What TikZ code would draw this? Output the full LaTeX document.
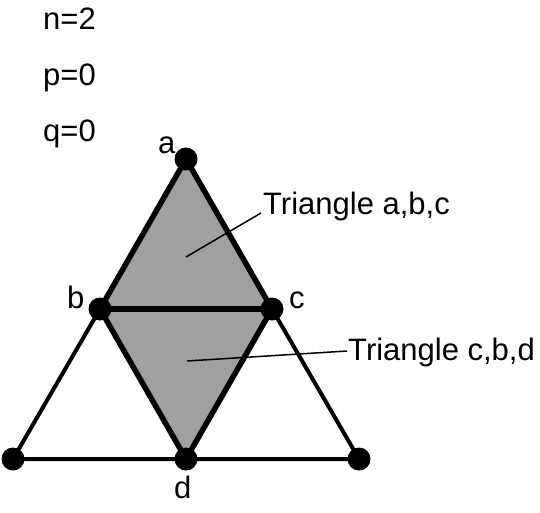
\documentclass[tikz,border=0pt]{standalone}
\usepackage{fontspec}
\setmainfont{Liberation Sans}
\usepackage{xcolor}
\usepackage{tikz}
\definecolor{facegray}{RGB}{160,160,160}

\begin{document}
\begin{tikzpicture}[x=1pt, y=-1pt]
    \tikzstyle{vertex} = [circle, fill=black, inner sep=0pt, minimum size=23pt]
    \tikzstyle{label} = [inner sep=0pt, anchor=base west, font=\fontsize{31}{31}\selectfont]
    \tikzstyle{edge} = [line width=4pt, line join=round]
    \tikzstyle{faceedge} = [line width=5.5pt, line join=round]
    \tikzstyle{leader} = [line width=1.5pt]

    \useasboundingbox (0,0) rectangle (540,512);

    % Grid points
    \coordinate (a) at (186,159);
    \coordinate (b) at (100,309);
    \coordinate (c) at (272,309);
    \coordinate (l) at (13,459);
    \coordinate (d) at (186,459);
    \coordinate (r) at (359,459);

    % Shaded triangles
    \fill [facegray] (a) -- (b) -- (d) -- (c) -- cycle;

    % Outer edges
    \draw [edge] (b) -- (l) -- (d) -- (r) -- (c);

    % Edges of the two triangles
    \draw [faceedge] (a) -- (b) -- (d) -- (c) -- cycle;
    \draw [faceedge] (b) -- (c);

    % Parameters
    \node [label] (nval) at (43,29) {n=2};
    \node [label] (pval) at (43,85) {p=0};
    \node [label] (qval) at (43,141) {q=0};

    % Vertex names
    \node [label] (aname) at (158,153) {a};
    \node [label] (bname) at (67,308) {b};
    \node [label] (cname) at (289,308) {c};
    \node [label] (dname) at (174,498) {d};

    % Triangle labels
    \node [label] (abc) at (263,214) {Triangle a,b,c};
    \node [label] (cbd) at (348,360) {Triangle c,b,d};
    \coordinate (abcin) at (186,257);
    \coordinate (cbdin) at (187,361);
    \draw [leader] (abcin) -- ([xshift=-2pt,yshift=1pt]abc.base west);
    \draw [leader] (cbdin) -- ([xshift=-1pt,yshift=9pt]cbd.base west);

    % Vertices
    \node [vertex] (va) at (a) {};
    \node [vertex] (vb) at (b) {};
    \node [vertex] (vc) at (c) {};
    \node [vertex] (vl) at (l) {};
    \node [vertex] (vd) at (d) {};
    \node [vertex] (vr) at (r) {};
\end{tikzpicture}
\end{document}
